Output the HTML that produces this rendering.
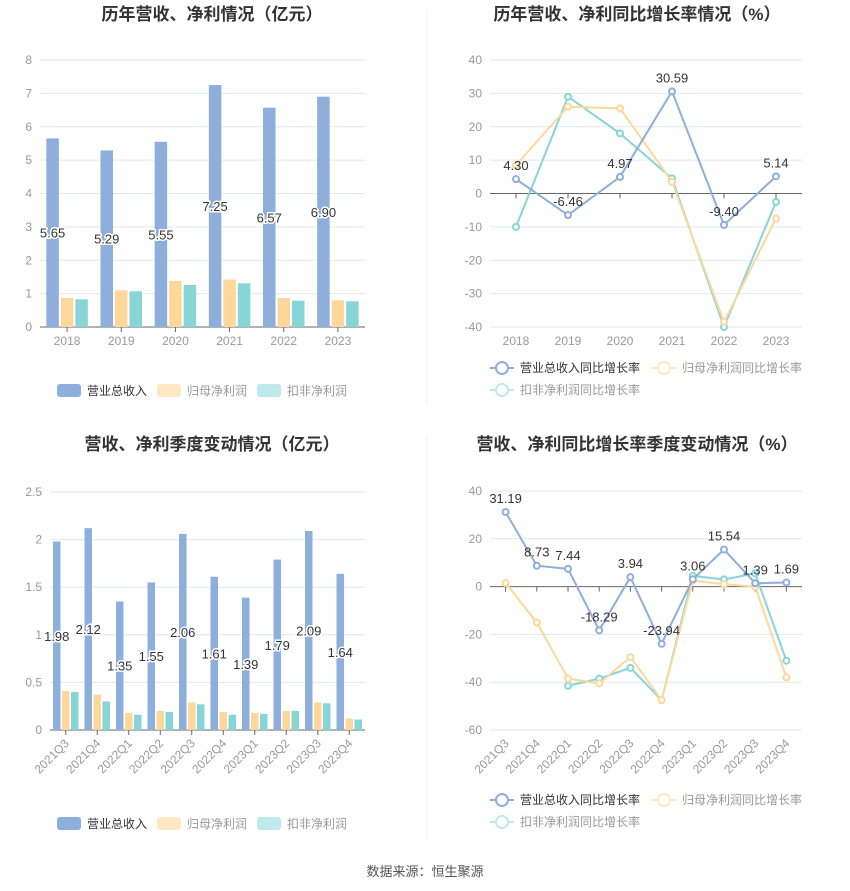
<!DOCTYPE html>
<html><head><meta charset="utf-8">
<style>
body{margin:0;background:#fff;width:850px;height:891px;overflow:hidden;font-family:"Liberation Sans","Noto Sans CJK SC",sans-serif;}
svg{display:block}
</style></head>
<body>
<svg id="root" width="850" height="891" xmlns="http://www.w3.org/2000/svg" font-family="Liberation Sans, Noto Sans CJK SC, sans-serif">
<line x1="427" y1="10" x2="427" y2="405" stroke="#eef0f4"/>
<line x1="427" y1="435" x2="427" y2="840" stroke="#eef0f4"/>
<text x="212" y="20" text-anchor="middle" font-size="17" font-weight="bold" fill="#333">历年营收、净利情况（亿元）</text>
<text x="637" y="20" text-anchor="middle" font-size="17" font-weight="bold" fill="#333">历年营收、净利同比增长率情况（%）</text>
<text x="212" y="450" text-anchor="middle" font-size="17" font-weight="bold" fill="#333">营收、净利季度变动情况（亿元）</text>
<text x="637" y="450" text-anchor="middle" font-size="17" font-weight="bold" fill="#333">营收、净利同比增长率季度变动情况（%）</text>
<text x="425" y="876" text-anchor="middle" font-size="13" fill="#555">数据来源：恒生聚源</text>
</svg>
<script>
const yearCats=['2018','2019','2020','2021','2022','2023'];
const yRevenue=[5.65,5.29,5.55,7.25,6.57,6.90];
const yNet=[0.87,1.10,1.38,1.42,0.87,0.80];
const yDed=[0.83,1.07,1.26,1.31,0.79,0.77];
const yTicks1=[0,1,2,3,4,5,6,7,8];
const yRevG=[4.30,-6.46,4.97,30.59,-9.40,5.14];
const yNetG=[8.5,26,25.5,3.5,-38.5,-7.5];
const yDedG=[-10,29,18,4.5,-40,-2.5];
const yTicks2=[-40,-30,-20,-10,0,10,20,30,40];
const qCats=['2021Q3','2021Q4','2022Q1','2022Q2','2022Q3','2022Q4','2023Q1','2023Q2','2023Q3','2023Q4'];
const qRevenue=[1.98,2.12,1.35,1.55,2.06,1.61,1.39,1.79,2.09,1.64];
const qNet=[0.41,0.37,0.18,0.20,0.29,0.19,0.18,0.20,0.29,0.12];
const qDed=[0.40,0.30,0.16,0.19,0.27,0.16,0.17,0.20,0.28,0.11];
const yTicks3=[0,0.5,1,1.5,2,2.5];
const qRevG=[31.19,8.73,7.44,-18.29,3.94,-23.94,3.06,15.54,1.39,1.69];
const qNetG=[1.5,-15,-38.5,-40.5,-29.5,-47.5,2.5,1,0,-38];
const qDedG=[null,null,-41.5,-38.5,-34,-47.5,4.5,3,5.5,-31];
const yTicks4=[-60,-40,-20,0,20,40];

const NS='http://www.w3.org/2000/svg';
const root=document.getElementById('root');
const C={blue:'#8eaedb',orange:'#fdd89a',teal:'#88d5d8',lb:'#ffe8c4',lt:'#bfe9ea'};
function mk(tag,attrs,parent,txt){const e=document.createElementNS(NS,tag);for(const k in attrs)e.setAttribute(k,attrs[k]);if(txt!==undefined)e.textContent=txt;(parent||root).appendChild(e);return e;}

function axes(g,o){
  const ys=v=>o.y0+(v-o.min)/(o.max-o.min)*(o.y1-o.y0);
  o.ticks.forEach(t=>{
    const l=mk('line',{x1:o.x0,x2:o.x1,y1:ys(t),y2:ys(t),stroke:t===o.zero?'#666':'#e3e7f2'},g);
    
    
    const tx=mk('text',{x:o.x0-8,y:ys(t)+4,'text-anchor':'end','font-size':12,fill:'#999'},g,String(t));
    
    
  });
  const bw=(o.x1-o.x0)/o.cats.length;
  const xs=i=>o.x0+bw*(i+0.5);
  o.cats.forEach((c,i)=>{
    const tk=mk('line',{x1:xs(i),x2:xs(i),y1:ys(o.zero),y2:ys(o.zero)+5,stroke:'#666'},g);
    
    
    let t;
    if(o.rot){t=mk('text',{x:xs(i)+4,y:o.y0+14,'text-anchor':'end','font-size':12,fill:'#999',transform:`rotate(-45 ${xs(i)+4} ${o.y0+14})`},g,c);}
    else t=mk('text',{x:xs(i),y:o.y0+18,'text-anchor':'middle','font-size':12,fill:'#999'},g,c);
    
    
  });
  return {ys,xs,bw};
}

function barChart(name,o,series,labels){
  const g=mk('g',{});
  
  
  const a=axes(g,o);
  const w=o.barW,gap=o.gap;
  series.forEach((s,si)=>{
    s.data.forEach((v,i)=>{
      const x=a.xs(i)-(w*3+gap*2)/2+si*(w+gap);
      const r=mk('rect',{x:x,y:a.ys(v),width:w,height:a.ys(0)-a.ys(v),fill:s.color},g);
      
      
    });
  });
  labels.forEach((v,i)=>{
    const x=a.xs(i)-(w*3+gap*2)/2+w/2;
    const t=mk('text',{x:x,y:a.ys(v/2)+5,'text-anchor':'middle','font-size':13,fill:'#333',stroke:'#fff','stroke-width':3,'paint-order':'stroke'},g,v.toFixed(2));
    
    
  });
}

function lineChart(name,o,series,labels){
  const g=mk('g',{});
  
  
  const a=axes(g,o);
  series.slice().reverse().forEach(s=>{
    let d='';
    s.data.forEach((v,i)=>{if(v===null)return;d+=(d?'L':'M')+a.xs(i)+' '+a.ys(v);});
    const p=mk('path',{d:d,fill:'none',stroke:s.color,'stroke-width':2},g);
    
    
    s.data.forEach((v,i)=>{if(v===null)return;
      const c=mk('circle',{cx:a.xs(i),cy:a.ys(v),r:3,fill:'#fff',stroke:s.color,'stroke-width':2},g);
      
      
    });
  });
  labels.forEach((v,i)=>{
    const t=mk('text',{x:a.xs(i),y:a.ys(v)-9,'text-anchor':'middle','font-size':13,fill:'#333'},g,v.toFixed(2));
    
    
  });
}

function barLegend(cx,y){
  const items=[['营业总收入',C.blue,'#333'],['归母净利润',C.lb,'#999'],['扣非净利润',C.lt,'#999']];
  let x=cx-150;
  items.forEach(it=>{
    const r=mk('rect',{x:x,y:y-6,width:24,height:13,rx:3,fill:it[1]});
    
    
    const t=mk('text',{x:x+30,y:y+5,'font-size':12,fill:it[2]},undefined,it[0]);
    
    
    x+=100;
  });
}
function lineLegend(x0,y){
  const items=[['营业总收入同比增长率',C.blue,'#333',x0,y],['归母净利润同比增长率',C.lb,'#999',x0+162,y],['扣非净利润同比增长率',C.lt,'#999',x0,y+22]];
  items.forEach(it=>{
    const l=mk('line',{x1:it[3],x2:it[3]+24,y1:it[4],y2:it[4],stroke:it[1],'stroke-width':2});
    
    
    const c=mk('circle',{cx:it[3]+12,cy:it[4],r:6,fill:'#fff',stroke:it[1],'stroke-width':2});
    
    
    const t=mk('text',{x:it[3]+30,y:it[4]+4,'font-size':12,fill:it[2]},undefined,it[0]);
    
    
  });
}

barChart('annual-bar-chart',{x0:40,x1:365,y0:327,y1:60,min:0,max:8,zero:0,ticks:yTicks1,cats:yearCats,barW:12.5,gap:2},
  [{key:'revenue',data:yRevenue,color:C.blue},{key:'net',data:yNet,color:C.orange},{key:'deducted',data:yDed,color:C.teal}],yRevenue);
barLegend(207,390);
lineChart('annual-growth-chart',{x0:490,x1:802,y0:327,y1:60,min:-40,max:40,zero:0,ticks:yTicks2,cats:yearCats},
  [{key:'revenue-growth',data:yRevG,color:C.blue},{key:'net-growth',data:yNetG,color:C.orange},{key:'deducted-growth',data:yDedG,color:C.teal}],yRevG);
lineLegend(490,368);
barChart('quarterly-bar-chart',{x0:50,x1:365,y0:730,y1:492,min:0,max:2.5,zero:0,ticks:yTicks3,cats:qCats,barW:7.5,gap:1.5,rot:true},
  [{key:'revenue',data:qRevenue,color:C.blue},{key:'net',data:qNet,color:C.orange},{key:'deducted',data:qDed,color:C.teal}],qRevenue);
barLegend(207,823);
lineChart('quarterly-growth-chart',{x0:490,x1:802,y0:730,y1:491,min:-60,max:40,zero:0,ticks:yTicks4,cats:qCats,rot:true},
  [{key:'revenue-growth',data:qRevG,color:C.blue},{key:'net-growth',data:qNetG,color:C.orange},{key:'deducted-growth',data:qDedG,color:C.teal}],qRevG);
lineLegend(490,800);
</script>
</body></html>
